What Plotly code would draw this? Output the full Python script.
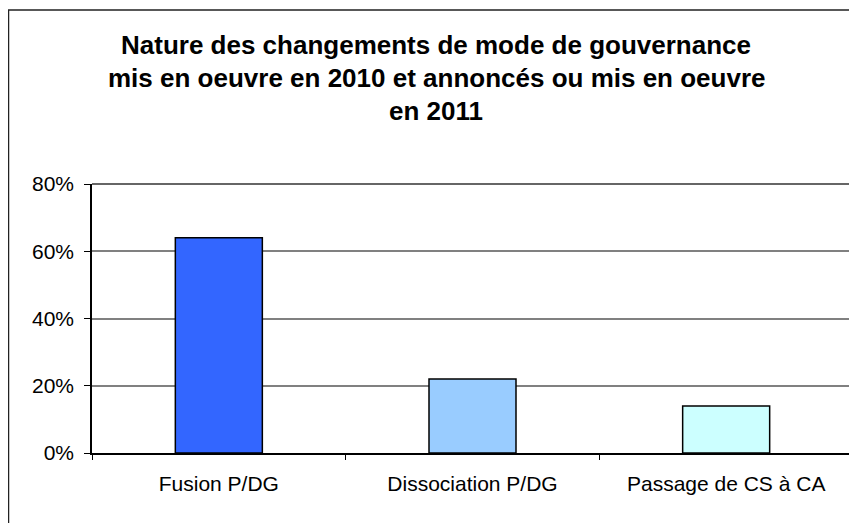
import plotly.graph_objects as go

categories = ["Fusion P/DG", "Dissociation P/DG", "Passage de CS à CA"]
values = [64, 22, 14]
bar_colors = ["#3366FF", "#99CCFF", "#CCFFFF"]
y_ticks = [0, 20, 40, 60, 80]
title_lines = [
    "Nature des changements de mode de gouvernance",
    "mis en oeuvre en 2010 et annoncés ou mis en oeuvre",
    "en 2011",
]

W, H = 857, 523
OFF = 8  # page body margin
# plot area in screen pixels
X0, X1, Y0, Y1 = 92, 853, 184, 453
L, R, T, B = X0 - OFF, W - (X1 - OFF), Y0 - OFF, H - (Y1 - OFF)
pw, ph = X1 - X0, Y1 - Y0


def px(x):
    return (x - X0) / pw


def py(y):
    return (Y1 - y) / ph


fig = go.Figure()
fig.add_trace(go.Bar(
    x=categories, y=values,
    marker=dict(color=bar_colors, line=dict(color="black", width=1.5)),
    width=0.343,
))

# outer chart frame (right and bottom are cut off in the picture)
fig.add_shape(type="rect", xref="paper", yref="paper",
              x0=px(8.5), x1=px(880), y0=py(560), y1=py(10),
              line=dict(color="#222222", width=1.5), layer="below")
# plot area border
fig.add_shape(type="line", xref="paper", yref="paper", x0=0, x1=1, y0=1, y1=1,
              line=dict(color="#333333", width=1.5))
fig.add_shape(type="line", xref="paper", yref="paper", x0=1, x1=1, y0=0, y1=1,
              line=dict(color="#808080", width=1.5))

for i, line in enumerate(title_lines):
    fig.add_annotation(text="<b>" + line + "</b>", xref="paper", yref="paper",
                       x=px(436), y=py(45 + 33 * i), showarrow=False,
                       xanchor="center", yanchor="middle",
                       font=dict(family="Liberation Sans, Arial", size=26, color="black"))

fig.update_layout(
    width=W, height=H,
    margin=dict(l=L, r=R, t=T, b=B),
    paper_bgcolor="white", plot_bgcolor="white",
    showlegend=False,
    font=dict(family="Liberation Sans, Arial", size=21, color="black"),
)
fig.update_xaxes(
    showline=True, linecolor="black", linewidth=1.5,
    ticks="outside", tickson="boundaries", ticklen=5, tickcolor="black",
    showgrid=False, tickfont=dict(size=21), ticklabelstandoff=11,
)
fig.update_yaxes(
    range=[0, 80], tickvals=y_ticks, ticktext=[f"{v}%" for v in y_ticks],
    showline=True, linecolor="black", linewidth=1.5,
    ticks="outside", ticklen=6, tickcolor="black",
    gridcolor="#808080", gridwidth=1.5, zeroline=False,
    tickfont=dict(size=21), ticklabelstandoff=6,
)

fig.write_html("out.html")
